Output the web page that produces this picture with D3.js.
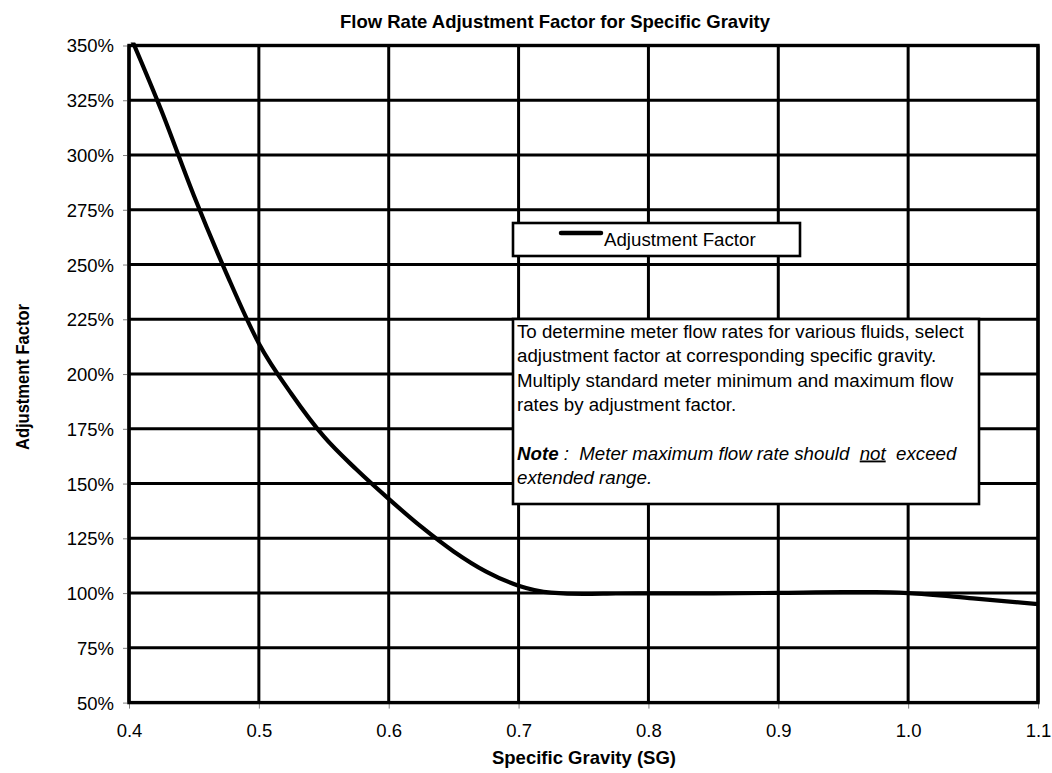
<!DOCTYPE html>
<html>
<head>
<meta charset="utf-8">
<script src="https://cdn.jsdelivr.net/npm/d3@7/dist/d3.min.js"></script>
<style>
  html, body { margin: 0; padding: 0; background: #fff; }
  svg { display: block; font-family: "Liberation Sans", Arial, sans-serif; }
</style>
</head>
<body>
<svg id="chart" width="1052" height="773"></svg>
<script>
// ---- data ----
const sg =     [0.400, 0.425, 0.450, 0.475, 0.500, 0.525, 0.550, 0.575, 0.600, 0.625, 0.650, 0.675, 0.700, 0.725, 0.750, 0.775, 0.800, 0.850, 0.900, 0.950, 0.975, 1.000, 1.050, 1.100];
const factor = [355.7, 320.2, 281.4, 246.0, 214.0, 191.0, 171.5, 156.5, 143.0, 130.3, 119.0, 109.8, 103.4, 100.2, 99.6, 99.8, 99.9, 99.9, 100.1, 100.4, 100.4, 100.0, 97.6, 95.0];
const xTicks = [0.4, 0.5, 0.6, 0.7, 0.8, 0.9, 1.0, 1.1];
const yTicks = [50, 75, 100, 125, 150, 175, 200, 225, 250, 275, 300, 325, 350];
const seriesName = "Adjustment Factor";
const chartTitle = "Flow Rate Adjustment Factor for Specific Gravity";
const xTitle = "Specific Gravity (SG)";
const yTitle = "Adjustment Factor";
const noteLines = [
  "To determine meter flow rates for various fluids, select",
  "adjustment factor at corresponding specific gravity.",
  "Multiply standard meter minimum and maximum flow",
  "rates by adjustment factor."
];

// ---- layout ----
const svg = d3.select("#chart");
const L = 129, R = 1038, T = 45.5, B = 702.6;
const x = d3.scaleLinear().domain([0.4, 1.1]).range([L, R]);
const y = d3.scaleLinear().domain([50, 350]).range([B, T]);
const FONT = '"Liberation Sans", Arial, sans-serif';

svg.append("rect").attr("width", 1052).attr("height", 773).attr("fill", "#fff");

// gridlines
const grid = svg.append("g");
grid.selectAll("line.h").data(yTicks).join("line")
  .attr("x1", L).attr("x2", R)
  .attr("y1", d => y(d)).attr("y2", d => y(d))
  .attr("stroke", "#000").attr("stroke-width", 3);
grid.selectAll("line.v").data(xTicks).join("line")
  .attr("y1", T).attr("y2", B)
  .attr("x1", d => x(d)).attr("x2", d => x(d))
  .attr("stroke", "#000").attr("stroke-width", 3);

// axes
const xAxis = svg.append("g").attr("transform", `translate(0,${B})`)
  .call(d3.axisBottom(x).tickValues(xTicks).tickFormat(d3.format(".1f")).tickSize(6).tickPadding(15));
const yAxis = svg.append("g").attr("transform", `translate(${L},0)`)
  .call(d3.axisLeft(y).tickValues(yTicks).tickFormat(d => d + "%").tickSize(6).tickPadding(9));
[xAxis, yAxis].forEach(a => {
  a.select(".domain").remove();
  a.selectAll(".tick line").attr("stroke", "#808080").attr("stroke-width", 1);
  a.selectAll(".tick text").attr("fill", "#000").style("font-size", "18.5px")
    .style("font-family", FONT);
});
yAxis.selectAll(".tick text").attr("dy", "0.35em");

// plot border
svg.append("rect").attr("x", L).attr("y", T).attr("width", R - L).attr("height", B - T)
  .attr("fill", "none").attr("stroke", "#000").attr("stroke-width", 3.4);

// curve
svg.append("clipPath").attr("id", "clip").append("rect")
  .attr("x", L).attr("y", T - 3).attr("width", R - L + 3).attr("height", B - T + 3);
const data = sg.map((s, i) => ({ s, v: factor[i] }));
const line = d3.line().x(d => x(d.s)).y(d => y(d.v)).curve(d3.curveMonotoneX);
svg.append("path").datum(data).attr("d", line)
  .attr("clip-path", "url(#clip)")
  .attr("fill", "none").attr("stroke", "#000").attr("stroke-width", 4.2)
  .attr("stroke-linejoin", "round");

// legend
const lg = svg.append("g");
lg.append("rect").attr("x", 513).attr("y", 223).attr("width", 287).attr("height", 33)
  .attr("fill", "#fff").attr("stroke", "#000").attr("stroke-width", 2.6);
lg.append("line").attr("x1", 561).attr("x2", 601).attr("y1", 233).attr("y2", 233)
  .attr("stroke", "#000").attr("stroke-width", 4.5).attr("stroke-linecap", "round");
lg.append("text").attr("x", 604).attr("y", 246).style("font-size", "18.7px").text(seriesName);

// note box
const nb = svg.append("g");
nb.append("rect").attr("x", 513).attr("y", 319).attr("width", 466).attr("height", 185)
  .attr("fill", "#fff").attr("stroke", "#000").attr("stroke-width", 2.6);
const lh = 24.3, tx = 517, ty0 = 338;
nb.selectAll("text.n").data(noteLines).join("text")
  .attr("x", tx).attr("y", (d, i) => ty0 + i * lh)
  .style("font-size", "18.7px").text(d => d);
const note = nb.append("text").attr("x", tx).attr("y", ty0 + 5 * lh)
  .attr("xml:space", "preserve").style("white-space", "pre")
  .style("font-size", "18.7px").style("font-style", "italic");
note.append("tspan").style("font-weight", "bold").text("Note");
note.append("tspan").text(" :  Meter maximum flow rate should  ");
note.append("tspan").attr("text-decoration", "underline").text("not");
note.append("tspan").text("  exceed");
nb.append("text").attr("x", tx).attr("y", ty0 + 6 * lh)
  .style("font-size", "18.7px").style("font-style", "italic").text("extended range.");

// titles
svg.append("text").attr("x", 555).attr("y", 28).attr("text-anchor", "middle")
  .style("font-size", "18.5px").style("font-weight", "bold").text(chartTitle);
svg.append("text").attr("x", 584).attr("y", 764).attr("text-anchor", "middle")
  .style("font-size", "18.5px").style("font-weight", "bold").text(xTitle);
svg.append("text").attr("transform", `translate(29,${(T + B) / 2 + 3}) rotate(-90)`)
  .attr("text-anchor", "middle")
  .attr("textLength", 146).attr("lengthAdjust", "spacingAndGlyphs")
  .style("font-size", "18px").style("font-weight", "bold").text(yTitle);
</script>
</body>
</html>
